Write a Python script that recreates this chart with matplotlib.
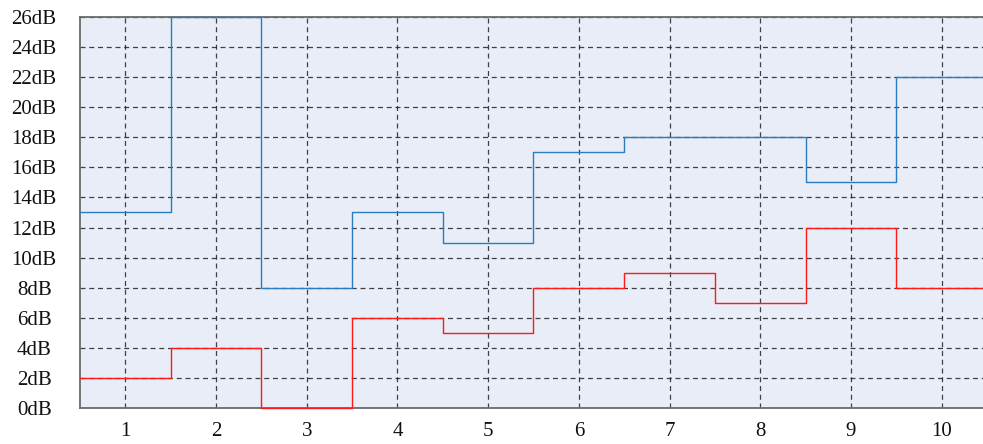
import matplotlib
matplotlib.use("Agg")
import matplotlib.pyplot as plt
import numpy as np

# channel index 1..10, gain per channel in dB
CHANNELS = [1, 2, 3, 4, 5, 6, 7, 8, 9, 10]
BLUE_DB = [13, 26, 8, 13, 11, 17, 18, 18, 15, 22]
RED_DB = [2, 4, 0, 6, 5, 8, 9, 7, 12, 8]
YTICKS = list(range(0, 27, 2))
YLABELS = [f"{v}dB" for v in YTICKS]

BG = "#e8edf7"
SPINE = "#6b6b6b"

plt.rcParams["font.family"] = ["Liberation Serif", "DejaVu Serif"]

fig = plt.figure(figsize=(9.83, 4.44), dpi=100)
ax = fig.add_axes([80 / 983, 1 - 408 / 444, 1 - 80 / 983 + 0.004, (408 - 17) / 444])
ax.set_facecolor(BG)


def step_xy(vals):
    x = np.array(CHANNELS, dtype=float)
    edges = np.concatenate([[x[0] - 0.5], x + 0.5])
    y = np.concatenate([vals, [vals[-1]]])
    return edges, y


for vals, col in ((BLUE_DB, "#2b7bbf"), (RED_DB, "#ff1a1a")):
    ex, ey = step_xy(vals)
    ax.step(ex, ey, where="post", color=col, lw=1.0, zorder=3, clip_on=False)

ax.set_xlim(0.5, 10.5)
ax.set_ylim(0, 26)
ax.set_xticks(CHANNELS)
ax.set_yticks(YTICKS)
ax.set_yticklabels(YLABELS, ha="center")
ax.tick_params(length=0, labelsize=15, colors="#111111")
ax.tick_params(axis="x", pad=10)
ax.tick_params(axis="y", pad=33)
ax.grid(True, ls=(0, (4, 3)), color="#222222", lw=0.9, alpha=0.85)
ax.set_axisbelow(True)
for s in ("left", "bottom", "top"):
    ax.spines[s].set_color(SPINE)
    ax.spines[s].set_linewidth(1.3)
ax.spines["right"].set_visible(False)

fig.savefig("out.png", dpi=100, facecolor="white")
